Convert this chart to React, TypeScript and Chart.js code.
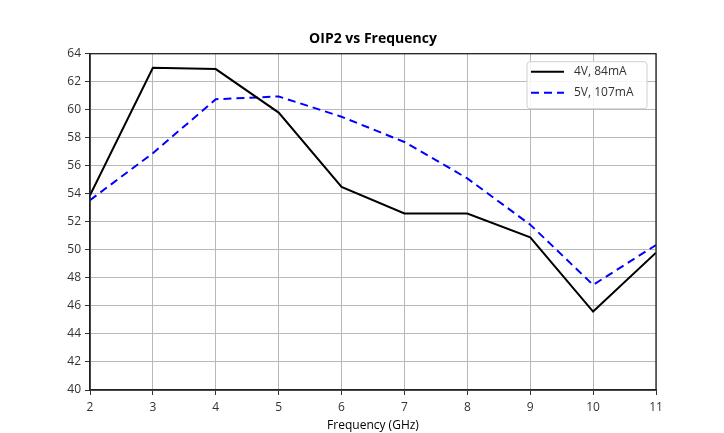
import React, { useEffect, useRef } from "react";
import { Chart, registerables } from "chart.js";

Chart.register(...registerables);

const frequencies = [2, 3, 4, 5, 6, 7, 8, 9, 10, 11];
const oip2_4V = [53.9, 63.0, 62.9, 59.8, 54.5, 52.6, 52.6, 50.9, 45.6, 49.8];
const oip2_5V = [53.55, 56.9, 60.75, 60.95, 59.5, 57.7, 55.1, 51.8, 47.5, 50.35];
const seriesLabels = ["4V, 84mA", "5V, 107mA"];
const chartTitle = "OIP2 vs Frequency";
const xTitle = "Frequency (GHz)";

const FONT = "'Open Sans', 'DejaVu Sans', sans-serif";

const framePlugin = {
  id: "frameAndLegend",
  afterDraw(chart: any) {
    const { ctx, chartArea } = chart;
    ctx.save();
    ctx.strokeStyle = "#222";
    ctx.lineWidth = 1.3;
    ctx.strokeRect(chartArea.left, chartArea.top, chartArea.right - chartArea.left, chartArea.bottom - chartArea.top);

    // title centred over the plot area
    ctx.fillStyle = "#000";
    ctx.font = `bold 14px ${FONT}`;
    ctx.textAlign = "center";
    ctx.textBaseline = "middle";
    ctx.fillText(chartTitle, (chartArea.left + chartArea.right) / 2, 39);

    // legend box
    const w = 120;
    const h = 47;
    const x = chartArea.right - 9 - w;
    const y = chartArea.top + 8;
    const r = 3;
    ctx.beginPath();
    ctx.moveTo(x + r, y);
    ctx.lineTo(x + w - r, y);
    ctx.quadraticCurveTo(x + w, y, x + w, y + r);
    ctx.lineTo(x + w, y + h - r);
    ctx.quadraticCurveTo(x + w, y + h, x + w - r, y + h);
    ctx.lineTo(x + r, y + h);
    ctx.quadraticCurveTo(x, y + h, x, y + h - r);
    ctx.lineTo(x, y + r);
    ctx.quadraticCurveTo(x, y, x + r, y);
    ctx.closePath();
    ctx.fillStyle = "rgba(255,255,255,0.85)";
    ctx.fill();
    ctx.strokeStyle = "#d0d0d0";
    ctx.lineWidth = 1;
    ctx.stroke();

    const ds = chart.data.datasets;
    const rows = [y + 10, y + 31];
    ds.forEach((d: any, i: number) => {
      ctx.beginPath();
      ctx.setLineDash(d.borderDash || []);
      ctx.strokeStyle = d.borderColor;
      ctx.lineWidth = d.borderWidth;
      ctx.moveTo(x + 4, rows[i]);
      ctx.lineTo(x + 37, rows[i]);
      ctx.stroke();
      ctx.setLineDash([]);
      ctx.fillStyle = "#333";
      ctx.font = `12px ${FONT}`;
      ctx.textBaseline = "middle";
      ctx.textAlign = "left";
      ctx.fillText(d.label, x + 47, rows[i]);
    });
    ctx.restore();
  },
};

export default function App() {
  const ref = useRef<HTMLCanvasElement | null>(null);
  useEffect(() => {
    if (!ref.current) return;
    const chart = new Chart(ref.current, {
      type: "line",
      data: {
        datasets: [
          {
            label: seriesLabels[0],
            data: frequencies.map((f, i) => ({ x: f, y: oip2_4V[i] })),
            borderColor: "#000000",
            borderWidth: 2,
            pointRadius: 0,
            tension: 0,
          },
          {
            label: seriesLabels[1],
            data: frequencies.map((f, i) => ({ x: f, y: oip2_5V[i] })),
            borderColor: "#0000ff",
            borderWidth: 2,
            borderDash: [8, 5],
            pointRadius: 0,
            tension: 0,
          },
        ],
      },
      options: {
        animation: false,
        responsive: false,
        devicePixelRatio: 1,
        layout: { padding: { left: 0, right: 68, top: 53.7, bottom: 0 } },
        plugins: {
          legend: { display: false },
          tooltip: { enabled: false },
          title: { display: false },
        },
        scales: {
          x: {
            type: "linear",
            min: 2,
            max: 11,
            ticks: {
              stepSize: 1,
              color: "#333",
              font: { family: FONT, size: 12 },
              padding: 5,
              maxRotation: 0,
            },
            grid: { color: "#b8b8b8", lineWidth: 1, tickLength: 5, tickColor: "#333" },
            border: { color: "#222", width: 1.3 },
            title: {
              display: true,
              text: xTitle,
              color: "#000",
              font: { family: FONT, size: 12 },
              padding: { top: 1, bottom: 0 },
            },
            afterFit: (s: any) => {
              s.height = 43;
            },
          },
          y: {
            min: 40,
            max: 64,
            ticks: {
              stepSize: 2,
              color: "#333",
              font: { family: FONT, size: 12 },
              padding: 4,
            },
            grid: { color: "#b8b8b8", lineWidth: 1, tickLength: 5, tickColor: "#333" },
            border: { color: "#222", width: 1.3 },
            afterFit: (s: any) => {
              s.width = 90;
            },
          },
        },
      },
      plugins: [framePlugin],
    });
    return () => chart.destroy();
  }, []);
  return (
    <div style={{ position: "fixed", left: 0, top: 0, width: 724, height: 433, background: "#fff" }}>
      <canvas ref={ref} width={724} height={433} style={{ width: 724, height: 433 }} />
    </div>
  );
}
